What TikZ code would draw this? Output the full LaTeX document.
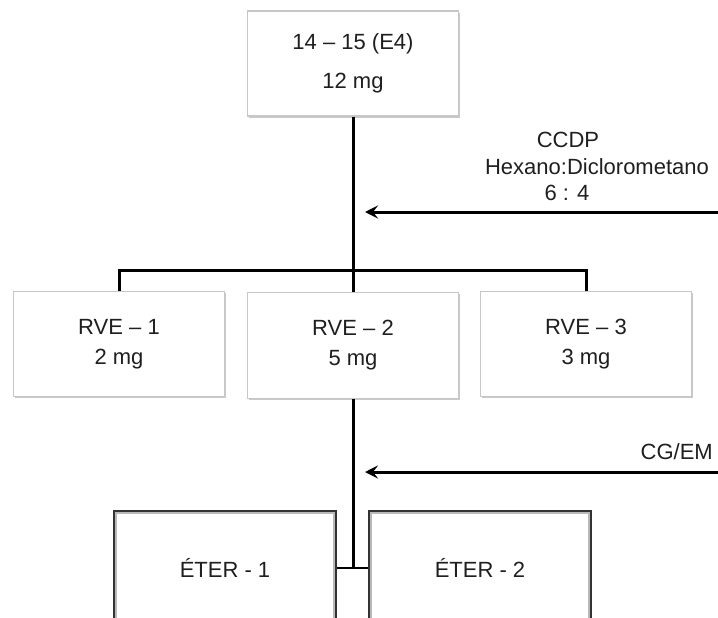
\documentclass[tikz,border=0pt]{standalone}
\usepackage{fontspec}
\setmainfont{Liberation Sans}
\usetikzlibrary{arrows.meta,shadows}
\begin{document}
\begin{tikzpicture}[x=1pt,y=-1pt,
  txt/.style={font=\fontsize{22}{30}\selectfont, text=black!88},
  lbox/.style={txt, draw=black!22, line width=1.2pt, fill=white, align=center,
    inner sep=0pt,
    drop shadow={shadow xshift=1.6pt, shadow yshift=-1.6pt, fill=black!35, opacity=0.6}},
  ebox/.style={txt, draw=black!80, line width=3.4pt, fill=white, inner sep=0pt,
    minimum width=220.6pt, minimum height=112.6pt},
  conn/.style={line width=3pt, black},
  arr/.style={line width=3pt, black, -{Stealth[length=13pt,width=13pt,inset=5pt]}},
  lbl/.style={txt, inner sep=0pt}
]
\useasboundingbox (0,0) rectangle (718,618);
\begin{scope}
\clip (0,0) rectangle (718,618);

% top box
\node[lbox, minimum width=211pt, minimum height=105pt, font=\fontsize{22}{39}\selectfont]
  (top) at (353,63.5) {14 -- 15 (E4)\\12 mg};

% RVE boxes
\node[lbox, minimum width=211pt, minimum height=105pt] (rve1) at (119,344) {RVE -- 1\\2 mg};
\node[lbox, minimum width=211pt, minimum height=106pt] (rve2) at (353,345.5) {RVE -- 2\\5 mg};
\node[lbox, minimum width=211pt, minimum height=105pt] (rve3) at (586,344) {RVE -- 3\\3 mg};

% ETER boxes
\node[ebox] (eter1) at (225,568) {ÉTER - 1};
\node[ebox] (eter2) at (480,568) {ÉTER - 2};
\foreach \n in {eter1,eter2}{
  \draw[gray!55, line width=2pt]
    ([shift={(2.9,2.9)}]\n.north west) rectangle ([shift={(-2.9,-2.9)}]\n.south east);
}

% connectors
\coordinate (bar) at (353,270);
\draw[conn] (top.south) -- (rve2.north);
\draw[conn] (rve1.north) -- (rve1.north |- bar) -| (rve3.north);
\draw[conn] (rve2.south) -- (rve2.south |- eter1.east);
\draw[line width=2.6pt, black] (eter1.east) -- (eter2.west);

% arrows
\coordinate (a1s) at (718,212);
\coordinate (a1e) at (365,212);
\draw[arr] (a1s) -- (a1e);
\coordinate (a2s) at (718,472);
\coordinate (a2e) at (365,472);
\draw[arr] (a2s) -- (a2e);

% labels
\node[lbl] (l1) at (568,140) {CCDP};
\node[lbl] (l2) at (597,167) {Hexano:Diclorometano};
\node[lbl] (l3) at (567,193) {6 : 4};
\node[lbl, anchor=east] (l4) at (713,452) {CG/EM};
\end{scope}
\end{tikzpicture}
\end{document}
